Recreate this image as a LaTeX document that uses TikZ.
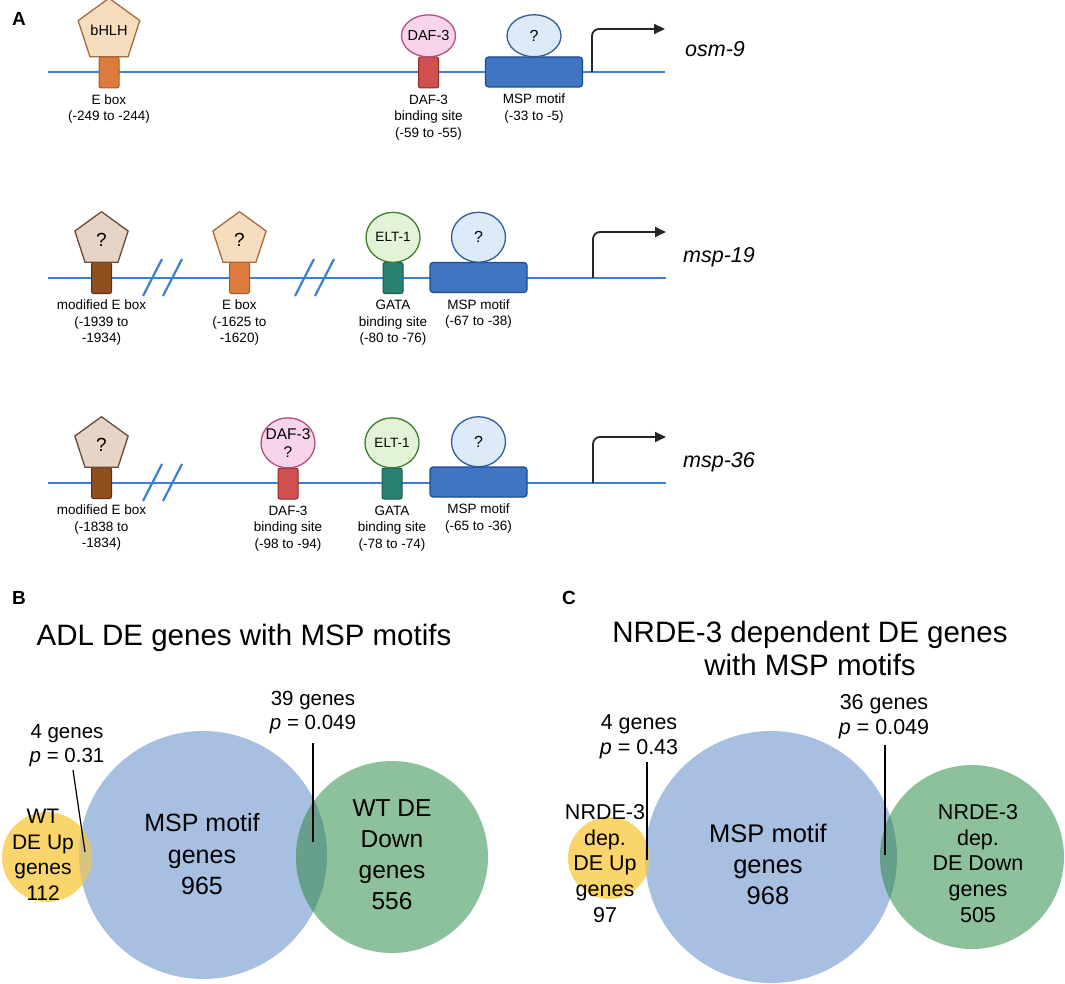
\documentclass[tikz,border=0pt]{standalone}
\usepackage{fontspec}
\setmainfont{Liberation Sans}
\usetikzlibrary{positioning,shapes.geometric,arrows.meta}

\definecolor{dnablue}{HTML}{3B80D2}
\definecolor{tanfill}{HTML}{F5DDBD}
\definecolor{tanedge}{HTML}{A9693A}
\definecolor{greyfill}{HTML}{E6D4C6}
\definecolor{greyedge}{HTML}{6A4A34}
\definecolor{orangebox}{HTML}{DD7B3D}
\definecolor{orangeedge}{HTML}{A9592A}
\definecolor{brownbox}{HTML}{8F4F1F}
\definecolor{brownedge}{HTML}{5A3010}
\definecolor{pinkfill}{HTML}{F7D4EA}
\definecolor{pinkedge}{HTML}{B24F84}
\definecolor{redbox}{HTML}{D04F4F}
\definecolor{rededge}{HTML}{8F2B2B}
\definecolor{greenfill}{HTML}{E2F3D8}
\definecolor{greenedge}{HTML}{3E7E2C}
\definecolor{tealbox}{HTML}{2A8072}
\definecolor{tealedge}{HTML}{1A5B50}
\definecolor{qfill}{HTML}{DDEAF8}
\definecolor{qedge}{HTML}{2F5F97}
\definecolor{mspfill}{HTML}{3F75C3}
\definecolor{mspedge}{HTML}{1E4A8E}
\definecolor{vennblue}{HTML}{A7BFE0}
\definecolor{venngreen}{HTML}{8DC19B}
\definecolor{vennyellow}{HTML}{F9D56B}
\definecolor{venndark}{HTML}{64A08C}
\definecolor{vennolive}{HTML}{D6C47F}

\newcommand{\setfs}[2]{\fontsize{#1}{#2}\selectfont}

\begin{document}
\begin{tikzpicture}[x=1pt, y=-1pt,
  site/.style={draw, line width=1pt, rounded corners=2pt, minimum width=20pt, minimum height=31pt, inner sep=0pt},
  motif/.style={draw=mspedge, fill=mspfill, line width=1.2pt, rounded corners=3pt, minimum width=97pt, minimum height=30pt, inner sep=0pt},
  factor/.style={ellipse, draw, line width=1.3pt, minimum width=54pt, minimum height=50pt, inner xsep=-5pt, inner ysep=0pt, align=center, font=\setfs{16}{18}},
  pentagon/.style={regular polygon, regular polygon sides=5, draw, line width=1.3pt, minimum size=56pt, inner sep=0pt, font=\setfs{19}{20}},
  lab/.style={align=center, inner sep=0pt, font=\setfs{13.5}{16.5}},
  gene/.style={anchor=base west, inner sep=0pt, font=\setfs{21.5}{24}\itshape},
  dna/.style={draw=dnablue, line width=2.8pt},
  tss/.style={draw=black!85, line width=1.8pt, rounded corners=7pt, -{Triangle[length=11pt, width=10pt]}},
  panel/.style={inner sep=0pt, font=\setfs{19}{20}\bfseries},
  headline/.style={align=center, inner sep=0pt, font=\setfs{29.5}{33}},
  venn/.style={circle, draw=none, inner sep=0pt},
  vbig/.style={align=center, inner sep=0pt, font=\setfs{25}{31.5}},
  vmid/.style={align=center, inner sep=0pt, font=\setfs{24.5}{31}},
  vsmall/.style={align=center, inner sep=0pt, font=\setfs{21}{25.5}},
  vnote/.style={align=center, inner sep=0pt, font=\setfs{20.5}{24}},
  pointer/.style={line width=1.2pt}]

  \useasboundingbox (0,0) rectangle (1065,984);

  % A: osm-9
  \node (A) [panel] at (19,19) {A};
  \coordinate (dna1a) at (48,72);
  \coordinate (dna1b) at (665,72);
  \draw[dna] (dna1a) -- (dna1b);
  \node (ebox1) [site, fill=orangebox, draw=orangeedge] at (109,72.5) {};
  \node (bhlh1) [pentagon, fill=tanfill, draw=tanedge, above=-1pt of ebox1, font=\setfs{14.5}{16}] {bHLH};
  \node (eboxlab1) [lab, below=6pt of ebox1] {E box\\(-249 to -244)};
  \node (daf1) [site, fill=redbox, draw=rededge] at (428.5,72.5) {};
  \node (daftf1) [factor, fill=pinkfill, draw=pinkedge, minimum height=42pt, above=-1pt of daf1, font=\setfs{14.5}{16}] {DAF-3};
  \node (daflab1) [lab, below=6pt of daf1] {DAF-3\\binding site\\(-59 to -55)};
  \node (msp1) [motif] at (534,72) {};
  \node (q1) [factor, fill=qfill, draw=qedge, minimum height=42pt, above=-1pt of msp1] {?};
  \node (msplab1) [lab, below=6pt of msp1] {MSP motif\\(-33 to -5)};
  \coordinate (tss1) at (592,72);
  \coordinate (tss1e) at (665,29);
  \draw[tss] (tss1) |- (tss1e);
  \node (osm9) [gene] at (685,57) {osm-9};

  % A: msp-19
  \coordinate (dna2a) at (48,278);
  \coordinate (dna2b) at (666,278);
  \draw[dna] (dna2a) -- (dna2b);
  \draw[dna, line width=2.2pt] (143,296) -- (162,259) (163,296) -- (182,259);
  \draw[dna, line width=2.2pt] (295,296) -- (314,259) (315,296) -- (334,259);
  \node (mebox2) [site, fill=brownbox, draw=brownedge] at (101.5,278) {};
  \node (metf2) [pentagon, fill=greyfill, draw=greyedge, above=-1pt of mebox2] {?};
  \node (meboxlab2) [lab, below=6pt of mebox2] {modified E box\\(-1939 to\\-1934)};
  \node (ebox2) [site, fill=orangebox, draw=orangeedge] at (239.5,278) {};
  \node (etf2) [pentagon, fill=tanfill, draw=tanedge, above=-1pt of ebox2] {?};
  \node (eboxlab2) [lab, below=6pt of ebox2] {E box\\(-1625 to\\-1620)};
  \node (gata2) [site, fill=tealbox, draw=tealedge] at (393,278) {};
  \node (elt2) [factor, fill=greenfill, draw=greenedge, above=-1pt of gata2, font=\setfs{13.5}{14}] {ELT-1};
  \node (gatalab2) [lab, below=6pt of gata2] {GATA\\binding site\\(-80 to -76)};
  \node (msp2) [motif] at (478.5,277.5) {};
  \node (q2) [factor, fill=qfill, draw=qedge, above=-1pt of msp2] {?};
  \node (msplab2) [lab, below=6pt of msp2] {MSP motif\\(-67 to -38)};
  \coordinate (tss2) at (593,278);
  \coordinate (tss2e) at (666,232);
  \draw[tss] (tss2) |- (tss2e);
  \node (msp19) [gene] at (683,262) {msp-19};

  % A: msp-36
  \coordinate (dna3a) at (48,483);
  \coordinate (dna3b) at (666,483);
  \draw[dna] (dna3a) -- (dna3b);
  \draw[dna, line width=2.2pt] (143,501) -- (162,464) (163,501) -- (182,464);
  \node (mebox3) [site, fill=brownbox, draw=brownedge] at (101.5,483) {};
  \node (metf3) [pentagon, fill=greyfill, draw=greyedge, above=-1pt of mebox3] {?};
  \node (meboxlab3) [lab, below=6pt of mebox3] {modified E box\\(-1838 to\\-1834)};
  \node (daf3) [site, fill=redbox, draw=rededge] at (288,483.5) {};
  \node (daftf3) [factor, fill=pinkfill, draw=pinkedge, above=-1pt of daf3, font=\setfs{15.5}{18}] {DAF-3\\?};
  \node (daflab3) [lab, below=6pt of daf3] {DAF-3\\binding site\\(-98 to -94)};
  \node (gata3) [site, fill=tealbox, draw=tealedge] at (392,483.5) {};
  \node (elt3) [factor, fill=greenfill, draw=greenedge, above=-1pt of gata3, font=\setfs{13.5}{14}] {ELT-1};
  \node (gatalab3) [lab, below=6pt of gata3] {GATA\\binding site\\(-78 to -74)};
  \node (msp3) [motif] at (478.5,482) {};
  \node (q3) [factor, fill=qfill, draw=qedge, above=-1pt of msp3] {?};
  \node (msplab3) [lab, below=6pt of msp3] {MSP motif\\(-65 to -36)};
  \coordinate (tss3) at (593,483);
  \coordinate (tss3e) at (666,437);
  \draw[tss] (tss3) |- (tss3e);
  \node (msp36) [gene] at (683,467) {msp-36};

  % B
  \node (B) [panel] at (19,598) {B};
  \node (titleB) [headline] at (244,638) {ADL DE genes with MSP motifs};
  \node (mspB) [venn, fill=vennblue, minimum size=248pt] at (203,855) {};
  \node (downB) [venn, fill=venngreen, minimum size=192pt] at (392,857) {};
  \node (upB) [venn, fill=vennyellow, minimum size=90pt] at (47,857) {};
  \begin{scope}
    \clip (mspB.center) circle [radius=124pt];
    \fill[venndark] (downB.center) circle [radius=96pt];
    \fill[vennolive] (upB.center) circle [radius=45pt];
  \end{scope}
  \node (upBtxt) [vsmall] at (43,855) {WT\\DE Up\\genes\\112};
  \node (mspBtxt) [vbig] at (202,854.5) {MSP motif\\genes\\965};
  \node (downBtxt) [vmid] at (392,855) {WT DE\\Down\\genes\\556};
  \node (upBnote) [vnote] at (67,745.5) {4 genes\\\textit{p} = 0.31};
  \node (downBnote) [vnote] at (313,712) {39 genes\\\textit{p} = 0.049};
  \coordinate (upBa) at (73,770);
  \coordinate (upBb) at (85,852);
  \draw[pointer] (upBa) -- (upBb);
  \coordinate (downBa) at (313,743);
  \coordinate (downBb) at (313,842);
  \draw[pointer] (downBa) -- (downBb);

  % C
  \node (C) [panel] at (569,598) {C};
  \node (titleC) [headline] at (810,648) {NRDE-3 dependent DE genes\\with MSP motifs};
  \node (mspC) [venn, fill=vennblue, minimum size=252pt] at (771,857) {};
  \node (downC) [venn, fill=venngreen, minimum size=184pt] at (972,857) {};
  \node (upC) [venn, fill=vennyellow, minimum size=82pt] at (609,858) {};
  \begin{scope}
    \clip (mspC.center) circle [radius=126pt];
    \fill[venndark] (downC.center) circle [radius=92pt];
    \fill[vennolive] (upC.center) circle [radius=41pt];
  \end{scope}
  \node (upCtxt) [vsmall, font=\setfs{21.5}{25.75}] at (605,863.5) {NRDE-3\\dep.\\DE Up\\genes\\97};
  \node (mspCtxt) [vbig, font=\setfs{25.5}{31}] at (768,864) {MSP motif\\genes\\968};
  \node (downCtxt) [vsmall, font=\setfs{21.5}{25.75}] at (978,863.5) {NRDE-3\\dep.\\DE Down\\genes\\505};
  \node (upCnote) [vnote, font=\setfs{21.5}{24.5}] at (639,737) {4 genes\\\textit{p} = 0.43};
  \node (downCnote) [vnote, font=\setfs{21.5}{24.5}] at (884,716.5) {36 genes\\\textit{p} = 0.049};
  \coordinate (upCa) at (647,762);
  \coordinate (upCb) at (647,860);
  \draw[pointer] (upCa) -- (upCb);
  \coordinate (downCa) at (885,745);
  \coordinate (downCb) at (885,855);
  \draw[pointer] (downCa) -- (downCb);
\end{tikzpicture}
\end{document}
